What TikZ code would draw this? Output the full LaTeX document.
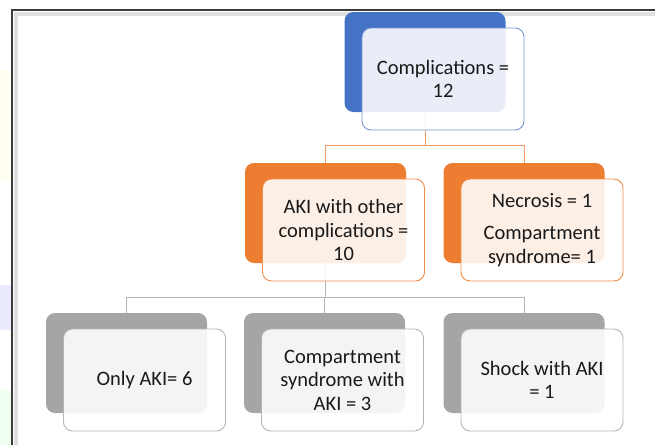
\documentclass[tikz,border=0pt]{standalone}
\usepackage{fontspec}
\setmainfont{Carlito}
\usepackage{tikz}
\usetikzlibrary{
    positioning,
    backgrounds,
    calc
}
\definecolor{Bmain}{RGB}{68, 114, 196}
\definecolor{Bline}{RGB}{120, 150, 215}
\definecolor{Omain}{RGB}{237, 125, 49}
\definecolor{Oline}{RGB}{242, 140, 75}
\definecolor{Olink}{RGB}{242, 155, 100}
\definecolor{Gmain}{RGB}{165, 165, 165}
\definecolor{Gline}{RGB}{180, 180, 180}
\definecolor{Frame}{RGB}{60, 60, 60}
\tikzset{
    backbox/.style={
        rectangle, rounded corners=9pt, draw=none,
        minimum width=161pt, minimum height=100pt, inner sep=0pt
    },
    frontbox/.style={
        rectangle, rounded corners=9pt, line width=0.9pt,
        fill=white, fill opacity=0.88, text opacity=1, text=black!90,
        minimum width=162pt, minimum height=102pt, inner sep=2pt,
        align=center, font=\fontsize{20.5}{23.5}\selectfont
    },
    blueback/.style={backbox, fill=Bmain},
    bluefront/.style={frontbox, draw=Bline},
    orangeback/.style={backbox, fill=Omain},
    orangefront/.style={frontbox, draw=Oline},
    greyback/.style={backbox, fill=Gmain},
    greyfront/.style={frontbox, draw=Gline},
    olink/.style={draw=Olink, line width=0.9pt},
    glink/.style={draw=Gline, line width=0.9pt},
}

\begin{document}
\begin{tikzpicture}[x=1pt, y=-1pt]

    \useasboundingbox (0,0) rectangle (655,445);

    % top level
    \node [blueback] (topback) at (425,62) {};
    \node [bluefront] (topfront) at ([shift={(18,17)}]topback.center)
        {Complications =\\12};

    % second level
    \node [orangeback] (akiback) at (325.5,213) {};
    \node [orangefront] (akifront) at ([shift={(18,17)}]akiback.center)
        {AKI with other\\complications =\\10};

    \node [orangeback] (necback) at (524,213) {};
    \node [orangefront] (necfront) at ([shift={(18,17)}]necback.center)
        {Necrosis = 1\\[9pt]Compartment\\syndrome= 1};

    % third level
    \node [greyback] (onlyback) at (126.5,363) {};
    \node [greyfront] (onlyfront) at ([shift={(18,17)}]onlyback.center)
        {Only AKI= 6};

    \node [greyback] (compback) at (324.5,363) {};
    \node [greyfront] (compfront) at ([shift={(18,17)}]compback.center)
        {Compartment\\syndrome with\\AKI = 3};

    \node [greyback] (shockback) at (524,363) {};
    \node [greyfront] (shockfront) at ([shift={(18,17)}]shockback.center)
        {Shock with AKI\\= 1};

    \begin{scope}[on background layer]
        % screenshot background and frame
        \fill[yellow!6] (0,70) rectangle (11,180);
        \fill[blue!8] (0,285) rectangle (11,330);
        \fill[green!6] (0,390) rectangle (11,445);
        \fill[white] (12,10) rectangle (655,445);
        \draw[black!12, line width=4pt] (16,445) -- (16,14) -- (655,14);
        \draw[Frame, line width=1.6pt] (12,445) -- (12,10) -- (655,10);
        % links
        \draw [olink] (topback.center) |- ++(0,83) -| (akiback.north);
        \draw [olink] (topback.center) |- ++(0,83) -| (necback.north);
        \draw [glink] (akiback.center) |- ++(0,84) -| (onlyback.north);
        \draw [glink] (akiback.center) |- ++(0,84) -| (compback.north);
        \draw [glink] (akiback.center) |- ++(0,84) -| (shockback.north);
    \end{scope}

\end{tikzpicture}
\end{document}
